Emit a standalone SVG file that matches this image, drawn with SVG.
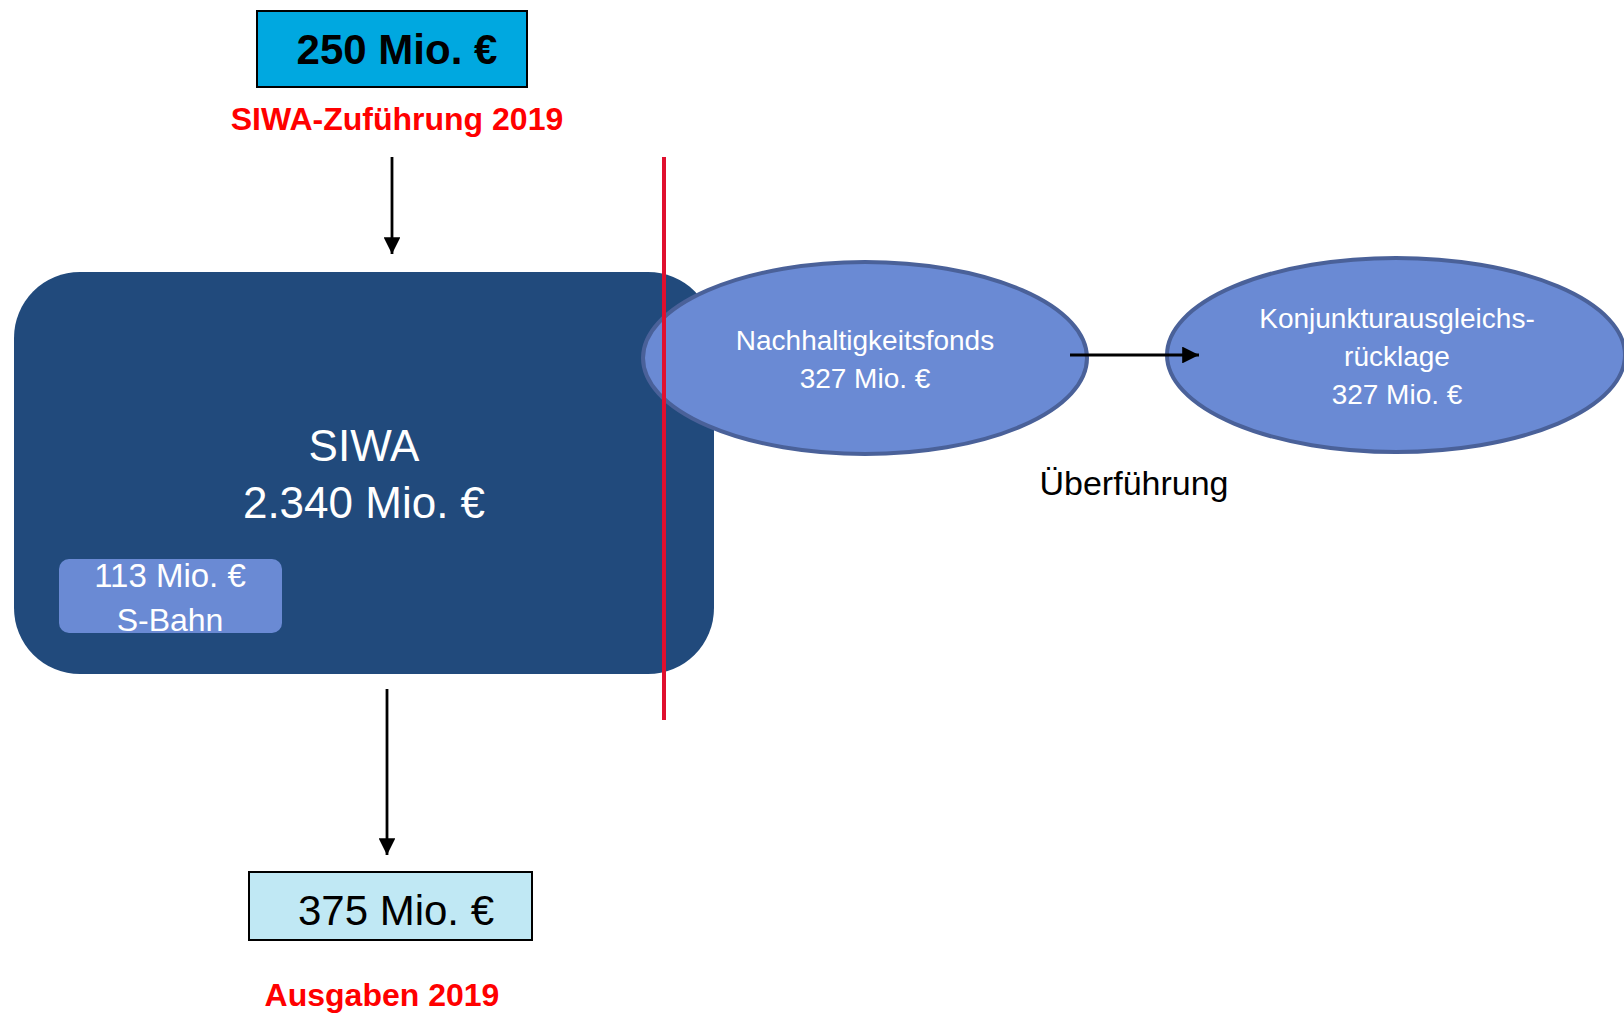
<svg xmlns="http://www.w3.org/2000/svg" width="1624" height="1013" viewBox="0 0 1624 1013">
<style>
text{font-family:"Liberation Sans",Arial,sans-serif;text-anchor:middle}
.w{fill:#ffffff}
.red{fill:#ff0000;font-weight:bold;font-size:32px}
.conn{stroke:#000;stroke-width:2.8;fill:none}
.ell{fill:#6a8ad4;stroke:#4a6199;stroke-width:4}
</style>
<defs>
<marker id="ah" viewBox="0 0 10 10" refX="10" refY="5" markerWidth="6" markerHeight="6" markerUnits="strokeWidth" orient="auto">
<path d="M0,0 L10,5 L0,10 z" fill="#000"/>
</marker>
</defs>
<rect width="1624" height="1013" fill="#ffffff"/>
<g id="top-box">
<rect x="257" y="11" width="270" height="76" fill="#00a8e0" stroke="#000" stroke-width="2"/>
<text x="397" y="64" font-size="42" font-weight="bold" fill="#000">250 Mio. €</text>
</g>
<g id="top-label"><text class="red" x="397" y="130">SIWA-Zuführung 2019</text></g>
<g id="siwa">
<rect x="14" y="272" width="700" height="402" rx="66" ry="66" fill="#214a7c"/>
<text class="w" x="364" y="461" font-size="44">SIWA</text>
<text class="w" x="364" y="518" font-size="44">2.340 Mio. €</text>
</g>
<g id="sbahn">
<rect x="59" y="559" width="223" height="74" rx="10" ry="10" fill="#6a8ad4"/>
<text class="w" x="170" y="587" font-size="33">113 Mio. €</text>
<text class="w" x="170" y="631" font-size="32">S-Bahn</text>
</g>
<g id="nachhaltigkeitsfonds">
<ellipse class="ell" cx="865" cy="358" rx="222" ry="96"/>
<text class="w" x="865" y="350" font-size="28">Nachhaltigkeitsfonds</text>
<text class="w" x="865" y="388" font-size="28">327 Mio. €</text>
</g>
<g id="konjunktur">
<ellipse class="ell" cx="1396" cy="355" rx="229" ry="97"/>
<text class="w" x="1397" y="328" font-size="28">Konjunkturausgleichs-</text>
<text class="w" x="1397" y="366" font-size="28">rücklage</text>
<text class="w" x="1397" y="404" font-size="28">327 Mio. €</text>
</g>
<g id="red-line"><line x1="664" y1="157" x2="664" y2="720" stroke="#e0102e" stroke-width="4"/></g>
<g id="ueberfuehrung-label"><text x="1134" y="495" font-size="34" fill="#000">Überführung</text></g>
<g id="bottom-box">
<rect x="249" y="872" width="283" height="68" fill="#c0e8f4" stroke="#000" stroke-width="2"/>
<text x="396" y="925" font-size="42" fill="#000">375 Mio. €</text>
</g>
<g id="bottom-label"><text class="red" x="382" y="1006">Ausgaben 2019</text></g>
<g id="connectors">
<line class="conn" x1="392" y1="157" x2="392" y2="254" marker-end="url(#ah)"/>
<line class="conn" x1="387" y1="689" x2="387" y2="855" marker-end="url(#ah)"/>
<line class="conn" x1="1070" y1="355" x2="1199" y2="355" marker-end="url(#ah)"/>
</g>
</svg>
